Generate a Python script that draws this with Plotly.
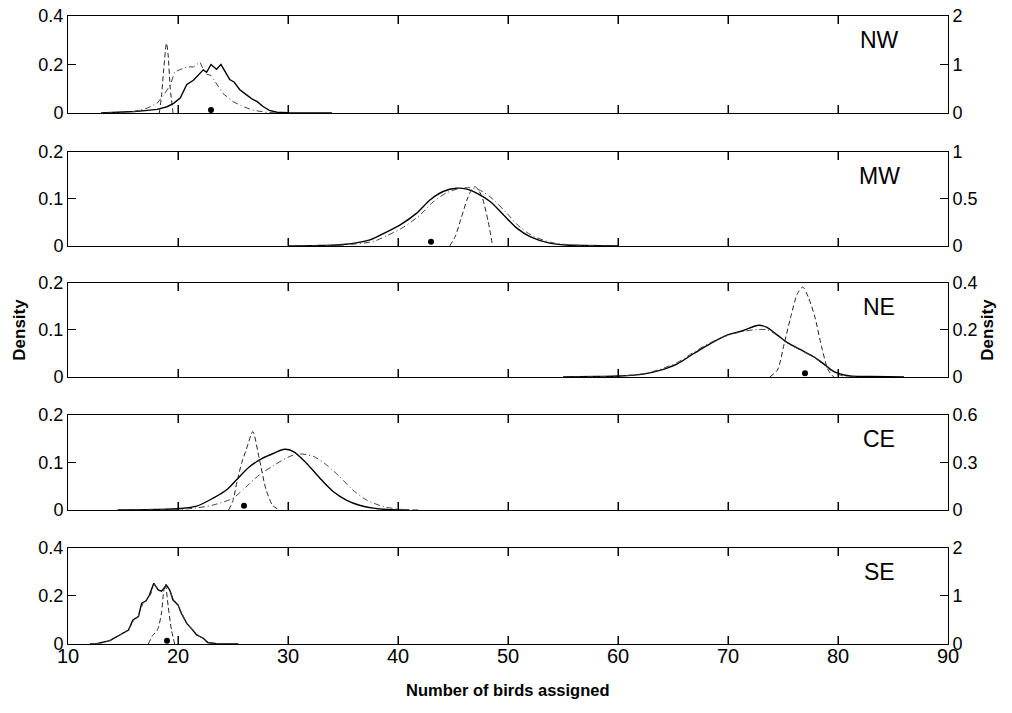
import plotly.graph_objects as go

# ---------------- data ----------------
regions = ["NW", "MW", "NE", "CE", "SE"]
x_ticks = [10, 20, 30, 40, 50, 60, 70, 80, 90]
left_ticks = [[0, 0.2, 0.4], [0, 0.1, 0.2], [0, 0.1, 0.2], [0, 0.1, 0.2], [0, 0.2, 0.4]]
left_labels = [["0", "0.2", "0.4"], ["0", "0.1", "0.2"], ["0", "0.1", "0.2"], ["0", "0.1", "0.2"], ["0", "0.2", "0.4"]]
right_ticks = [[0, 1, 2], [0, 0.5, 1], [0, 0.2, 0.4], [0, 0.3, 0.6], [0, 1, 2]]
right_labels = [["0", "1", "2"], ["0", "0.5", "1"], ["0", "0.2", "0.4"], ["0", "0.3", "0.6"], ["0", "1", "2"]]

# NW
nw_solid_x = [13.0, 15.0, 16.0, 17.0, 18.1, 19.0, 19.6, 20.2, 20.8, 21.4, 21.9, 22.3, 22.6, 23.0, 23.5, 23.9, 24.3, 24.7, 25.1, 25.6, 26.2, 26.8, 27.2, 27.7, 28.3, 29.0, 30.0, 34.0]
nw_solid_y = [0, 0.002, 0.006, 0.010, 0.015, 0.026, 0.040, 0.062, 0.118, 0.135, 0.160, 0.178, 0.168, 0.200, 0.180, 0.200, 0.170, 0.138, 0.128, 0.097, 0.076, 0.056, 0.047, 0.028, 0.011, 0.003, 0.001, 0]
nw_dashdot_x = [13.5, 15.0, 16.0, 17.2, 18.1, 18.7, 19.3, 19.7, 20.2, 20.8, 21.4, 22.0, 22.3, 22.6, 23.0, 23.5, 24.1, 25.0, 25.9, 26.8, 28.0, 29.0]
nw_dashdot_y = [0, 0.002, 0.006, 0.020, 0.040, 0.075, 0.115, 0.170, 0.178, 0.190, 0.190, 0.210, 0.180, 0.160, 0.155, 0.120, 0.080, 0.047, 0.027, 0.012, 0.003, 0]
nw_dashed_x = [18.3, 18.5, 18.7, 18.95, 19.1, 19.3, 19.55]
nw_dashed_y = [0, 0.35, 0.9, 1.44, 1.2, 0.5, 0]
nw_point = [23.0, 0.012]

# MW
mw_solid_x = [30, 33, 35, 37.45, 38.7, 40.2, 41.7, 42.9, 44.1, 45.3, 46.25, 47.2, 48.4, 49.6, 50.8, 52.0, 53.8, 55.3, 57, 60]
mw_solid_y = [0, 0.001, 0.003, 0.013, 0.027, 0.045, 0.070, 0.098, 0.116, 0.123, 0.121, 0.112, 0.094, 0.066, 0.038, 0.020, 0.006, 0.002, 0.001, 0]
mw_dashdot_x = [31, 34, 36, 37.8, 39, 40.5, 42, 43.2, 44.4, 45.5, 46.5, 47.5, 48.6, 49.8, 51.0, 52.2, 54, 56, 60]
mw_dashdot_y = [0, 0.001, 0.004, 0.010, 0.022, 0.040, 0.066, 0.094, 0.113, 0.122, 0.124, 0.118, 0.100, 0.072, 0.042, 0.022, 0.007, 0.002, 0]
mw_dashed_x = [44.7, 45.2, 45.7, 46.3, 46.7, 47.0, 47.3, 47.7, 48.2, 48.6]
mw_dashed_y = [0, 0.10, 0.28, 0.50, 0.60, 0.63, 0.60, 0.50, 0.26, 0]
mw_point = [43.0, 0.009]

# NE
ne_solid_x = [55, 58, 60.2, 62.3, 63.8, 65.4, 66.9, 68.4, 69.9, 71.4, 72.8, 73.5, 74.5, 75.4, 76.6, 77.8, 78.7, 79.6, 81.1, 83, 86]
ne_solid_y = [0, 0.001, 0.002, 0.006, 0.014, 0.028, 0.050, 0.071, 0.089, 0.099, 0.110, 0.106, 0.089, 0.073, 0.058, 0.043, 0.028, 0.012, 0.002, 0.001, 0]
ne_dashdot_x = [56, 60, 62.3, 63.8, 65.4, 66.9, 68.4, 69.9, 71.4, 72.6, 73.6, 74.5, 75.4, 76.6, 77.8, 78.7, 79.6, 80.5, 82]
ne_dashdot_y = [0, 0.002, 0.007, 0.016, 0.031, 0.053, 0.073, 0.088, 0.097, 0.101, 0.100, 0.088, 0.072, 0.057, 0.042, 0.026, 0.010, 0.002, 0]
ne_dashed_x = [73.8, 74.5, 75.1, 75.7, 76.3, 76.8, 77.3, 77.9, 78.5, 79.1, 79.6]
ne_dashed_y = [0, 0.03, 0.14, 0.255, 0.354, 0.383, 0.34, 0.255, 0.13, 0.03, 0]
ne_point = [77.0, 0.008]

# CE
ce_solid_x = [14.5, 18, 20.2, 21.7, 23.2, 24.4, 25.3, 26.5, 27.7, 28.65, 29.7, 30.5, 31.7, 32.9, 34.1, 35.3, 36.5, 37.75, 39, 41]
ce_solid_y = [0, 0.001, 0.003, 0.008, 0.025, 0.042, 0.063, 0.091, 0.109, 0.119, 0.128, 0.123, 0.098, 0.067, 0.039, 0.021, 0.010, 0.004, 0.001, 0]
ce_dashdot_x = [16, 19.5, 21.4, 23.2, 25.0, 26.2, 27.4, 28.65, 29.9, 30.9, 32.3, 33.5, 34.7, 35.9, 37.15, 38.7, 40.2, 42]
ce_dashdot_y = [0, 0.001, 0.0035, 0.0105, 0.025, 0.049, 0.074, 0.093, 0.110, 0.118, 0.113, 0.095, 0.070, 0.042, 0.021, 0.007, 0.0015, 0]
ce_dashed_x = [24.6, 25.0, 25.4, 25.8, 26.2, 26.8, 27.4, 28.0, 28.6, 29.2]
ce_dashed_y = [0, 0.06, 0.19, 0.30, 0.38, 0.495, 0.32, 0.13, 0.03, 0]
ce_point = [26.0, 0.009]

# SE
se_solid_x = [12.0, 12.6, 13.8, 14.7, 15.5, 15.9, 16.4, 16.7, 17.1, 17.4, 17.8, 18.2, 18.5, 18.95, 19.25, 19.55, 20.0, 20.3, 20.8, 21.2, 21.7, 22.3, 22.7, 23.5, 25.5]
se_solid_y = [0, 0.001, 0.014, 0.038, 0.058, 0.100, 0.114, 0.170, 0.180, 0.204, 0.253, 0.225, 0.220, 0.245, 0.225, 0.183, 0.163, 0.128, 0.086, 0.065, 0.038, 0.024, 0.006, 0.001, 0]
se_dashdot_x = [12.3, 13.0, 13.9, 14.8, 15.5, 16.0, 16.4, 16.8, 17.1, 17.5, 17.85, 18.2, 18.5, 18.95, 19.3, 19.6, 20.0, 20.4, 20.8, 21.3, 21.8, 22.3, 22.8, 24.0]
se_dashdot_y = [0, 0.003, 0.016, 0.040, 0.060, 0.098, 0.116, 0.168, 0.182, 0.205, 0.250, 0.222, 0.222, 0.242, 0.220, 0.180, 0.160, 0.122, 0.086, 0.062, 0.036, 0.022, 0.005, 0]
se_dashed_x = [17.3, 17.7, 18.0, 18.2, 18.5, 18.7, 18.85, 19.1, 19.4, 19.7]
se_dashed_y = [0, 0.18, 0.25, 0.33, 0.65, 1.10, 1.25, 0.80, 0.30, 0]
se_point = [19.0, 0.014]

solids = [(nw_solid_x, nw_solid_y), (mw_solid_x, mw_solid_y), (ne_solid_x, ne_solid_y), (ce_solid_x, ce_solid_y), (se_solid_x, se_solid_y)]
dashdots = [(nw_dashdot_x, nw_dashdot_y), (mw_dashdot_x, mw_dashdot_y), (ne_dashdot_x, ne_dashdot_y), (ce_dashdot_x, ce_dashdot_y), (se_dashdot_x, se_dashdot_y)]
dasheds = [(nw_dashed_x, nw_dashed_y), (mw_dashed_x, mw_dashed_y), (ne_dashed_x, ne_dashed_y), (ce_dashed_x, ce_dashed_y), (se_dashed_x, se_dashed_y)]
points = [nw_point, mw_point, ne_point, ce_point, se_point]

# ---------------- layout geometry ----------------
domains = [[0.8455, 1.0], [0.6338, 0.7834], [0.4252, 0.5748], [0.2134, 0.3646], [0.0, 0.1529]]
FONT = "Liberation Sans, Arial, Helvetica, sans-serif"
jagged = [True, False, False, False, True]
TICKLEN = 8

fig = go.Figure()
layout = dict(
    template="none",
    width=1012, height=713,
    margin=dict(l=68, r=64, t=16, b=69),
    paper_bgcolor="white", plot_bgcolor="white",
    showlegend=False,
    font=dict(family=FONT, color="black", size=18),
)

shapes = []
for i in range(5):
    xa = "x" if i == 0 else f"x{i + 1}"
    yl = "y" if i == 0 else f"y{2 * i + 1}"
    yr = f"y{2 * i + 2}"
    shape = "linear" if jagged[i] else "spline"
    sx, sy = solids[i]
    fig.add_trace(go.Scatter(x=sx, y=sy, xaxis=xa, yaxis=yl, mode="lines",
                             line=dict(color="black", width=1.4, shape=shape, smoothing=0.8)))
    dx, dy = dashdots[i]
    fig.add_trace(go.Scatter(x=dx, y=dy, xaxis=xa, yaxis=yl, mode="lines",
                             line=dict(color="#444444", width=1, dash="6px,3px,1px,3px", shape=shape, smoothing=0.8)))
    ex, ey = dasheds[i]
    fig.add_trace(go.Scatter(x=ex, y=ey, xaxis=xa, yaxis=yr, mode="lines",
                             line=dict(color="#222222", width=1, dash="5px,3px", shape="spline", smoothing=0.7)))
    px_, py_ = points[i]
    fig.add_trace(go.Scatter(x=[px_], y=[py_], xaxis=xa, yaxis=yl, mode="markers",
                             marker=dict(color="black", size=6)))

    xkey = "xaxis" if i == 0 else f"xaxis{i + 1}"
    ylkey = "yaxis" if i == 0 else f"yaxis{2 * i + 1}"
    yrkey = f"yaxis{2 * i + 2}"
    layout[xkey] = dict(domain=[0, 1], anchor=yl, range=[10, 90], tickmode="array", tickvals=x_ticks,
                        ticktext=[str(v) for v in x_ticks], showticklabels=(i == 4),
                        ticks="inside", ticklen=TICKLEN, tickwidth=1, tickcolor="black", mirror="ticks",
                        showline=True, linecolor="black", linewidth=1, showgrid=False,
                        zeroline=False, automargin=False, ticklabelstandoff=-6,
                        tickfont=dict(size=20, family=FONT, color="black"))
    layout[ylkey] = dict(domain=domains[i], anchor=xa, range=[0, left_ticks[i][-1]], tickmode="array",
                         tickvals=left_ticks[i], ticktext=left_labels[i],
                         ticks="inside", ticklen=TICKLEN, tickwidth=1, tickcolor="black",
                         showline=True, linecolor="black", linewidth=1, showgrid=False,
                         zeroline=False, automargin=False,
                         tickfont=dict(size=18, family=FONT, color="black"))
    layout[yrkey] = dict(overlaying=yl, side="right", anchor=xa, range=[0, right_ticks[i][-1]], tickmode="array",
                         tickvals=right_ticks[i], ticktext=right_labels[i],
                         ticks="inside", ticklen=TICKLEN, tickwidth=1, tickcolor="black",
                         showline=True, linecolor="black", linewidth=1, showgrid=False,
                         zeroline=False, automargin=False,
                         tickfont=dict(size=18, family=FONT, color="black"))

    # inside tick marks along bottom and top borders at the x tick positions
    for v in x_ticks[1:-1]:
        shapes.append(dict(type="line", xref=xa, yref=f"{yl} domain", ysizemode="pixel", yanchor=0,
                           x0=v, x1=v, y0=0, y1=TICKLEN, line=dict(color="black", width=1), layer="above"))
        shapes.append(dict(type="line", xref=xa, yref=f"{yl} domain", ysizemode="pixel", yanchor=1,
                           x0=v, x1=v, y0=0, y1=-TICKLEN, line=dict(color="black", width=1), layer="above"))

annotations = []
for i, name in enumerate(regions):
    xa = "x" if i == 0 else f"x{i + 1}"
    yl = "y" if i == 0 else f"y{2 * i + 1}"
    annotations.append(dict(text=name, xref=f"{xa} domain", yref=f"{yl} domain",
                            x=0.922, y=0.75, xanchor="center", yanchor="middle",
                            showarrow=False, font=dict(size=23, family=FONT, color="black")))
annotations.append(dict(text="<b>Density</b>", xref="paper", yref="paper", x=-0.056, y=0.5,
                        textangle=-90, showarrow=False, xanchor="center", yanchor="middle",
                        font=dict(size=17, family=FONT, color="black")))
annotations.append(dict(text="<b>Density</b>", xref="paper", yref="paper", x=1.044, y=0.5,
                        textangle=-90, showarrow=False, xanchor="center", yanchor="middle",
                        font=dict(size=17, family=FONT, color="black")))
annotations.append(dict(text="<b>Number of birds assigned</b>", xref="paper", yref="paper", x=0.5, y=-0.0732,
                        showarrow=False, xanchor="center", yanchor="middle",
                        font=dict(size=16.5, family=FONT, color="black")))
layout["annotations"] = annotations
layout["shapes"] = shapes

fig.update_layout(**layout)
fig.write_html("out.html")
